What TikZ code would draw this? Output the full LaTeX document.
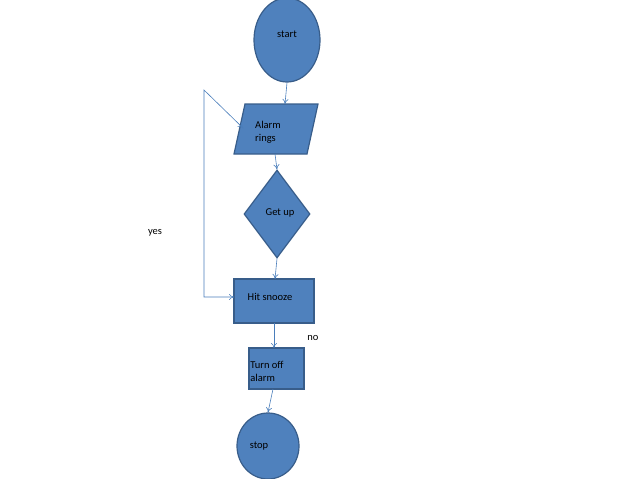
\documentclass[tikz,border=0pt]{standalone}
\usepackage{fontspec}
\setmainfont{Carlito}
\usetikzlibrary{shapes.geometric,arrows.meta}
\definecolor{fillb}{HTML}{4F81BD}
\definecolor{edgeb}{HTML}{385D8A}
\definecolor{lineb}{HTML}{4A7EBB}
\tikzset{shp/.style={fill=fillb,draw=edgeb,line width=1.2pt},
 con/.style={draw=lineb,line width=0.6pt,-{To[length=5pt,width=6pt]}},
 lbl/.style={font=\fontsize{10.5pt}{13pt}\selectfont,align=left,inner sep=0}}
\begin{document}
\begin{tikzpicture}[x=1pt,y=-1pt]
\useasboundingbox (0,0) rectangle (638,479);
\node[shp,ellipse,minimum width=66,minimum height=84] (start) at (287,40) {};
\node[lbl] at (287,34) {start};
\draw[shp] (245,104) -- (318,104) -- (307,154) -- (234,154) -- cycle;
\coordinate (alT) at (285,104); \coordinate (alB) at (275,154); \coordinate (alL) at (243,128);
\node[lbl] at (268,132) {Alarm\\rings};
\node[shp,diamond,minimum width=66,minimum height=88,inner sep=0] (get) at (277,214) {};
\node[lbl] at (280,213) {Get up};
\draw[shp] (234,279) rectangle (314,323);
\coordinate (hsT) at (275,279); \coordinate (hsB) at (274,323); \coordinate (hsL) at (234,297);
\node[lbl] at (270,297) {Hit snooze};
\draw[shp] (249,348) rectangle (304,389);
\coordinate (toT) at (274,348); \coordinate (toB) at (273,389);
\node[lbl] at (267,371) {Turn off\\alarm};
\node[shp,ellipse,minimum width=62,minimum height=66] (stop) at (268,446) {};
\node[lbl] at (259,446) {stop};
\node[lbl] at (155,233) {yes};
\node[lbl] at (313,338) {no};
\draw[con] (start.south) -- (alT);
\draw[con] (alB) -- (get.north);
\draw[con] (get.south) -- (hsT);
\draw[con] (hsB) -- (toT);
\draw[con] (toB) -- (stop.north);
\coordinate (c1) at (204,297); \coordinate (c2) at (204,90);
\draw[con,{To[length=5pt,width=6pt]}-{To[length=5pt,width=6pt]}] (hsL) -- (c1) -- (c2) -- (alL);
\end{tikzpicture}
\end{document}
